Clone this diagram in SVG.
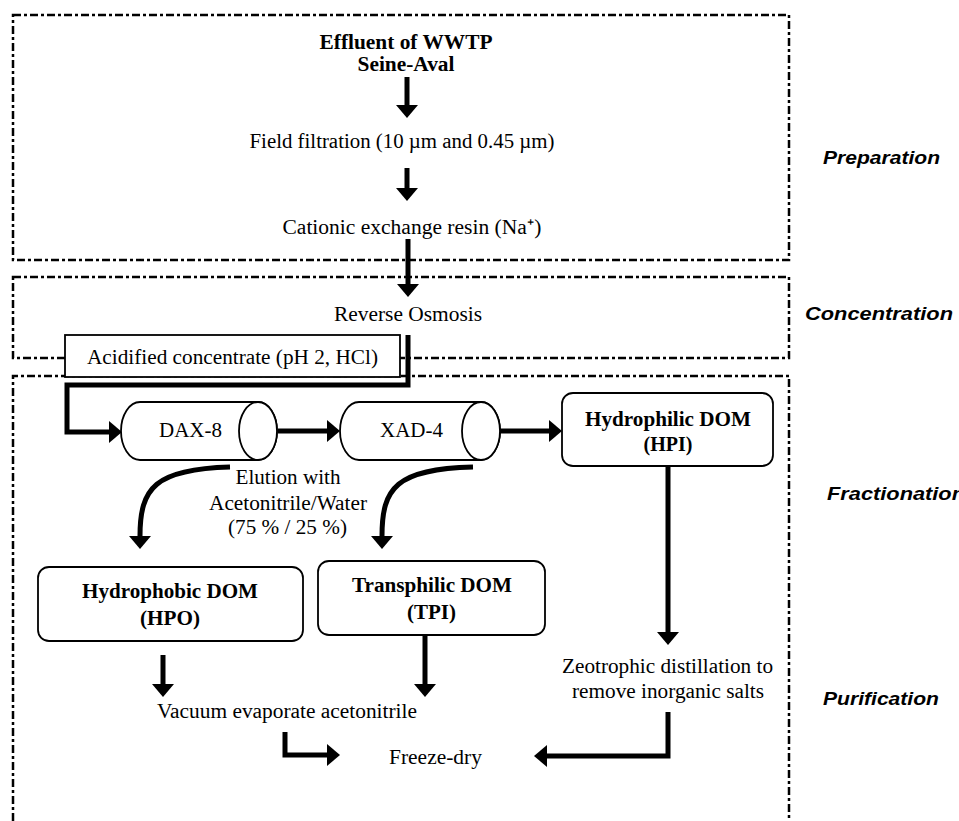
<svg xmlns="http://www.w3.org/2000/svg" width="959" height="821" viewBox="0 0 959 821">
<defs>
<marker id="ah" viewBox="0 0 13 22" refX="0" refY="11" markerWidth="13" markerHeight="22" markerUnits="userSpaceOnUse" orient="auto">
<path d="M0,0 L13,11 L0,22 Z" fill="#000"/>
</marker>
</defs>
<style>
.zone{fill:none;stroke:#000;stroke-width:2.5;stroke-dasharray:8 3 3 3}
.t{font-family:"Liberation Serif","Times New Roman",serif;font-size:20px;fill:#000;text-anchor:middle}
.b{font-weight:bold}
.lab{font-family:"Liberation Sans",Arial,sans-serif;font-size:18px;font-weight:bold;font-style:italic;fill:#000}
.box{fill:#fff;stroke:#000;stroke-width:1.8}
.cyl{fill:#fff;stroke:#000;stroke-width:1.8}
.c{fill:none;stroke:#000;stroke-width:5;marker-end:url(#ah)}
.e{fill:none;stroke:#000;stroke-width:5;stroke-linejoin:miter;marker-end:url(#ah)}
</style>
<rect width="959" height="821" fill="#fff"/>
<g id="zones">
<rect class="zone" x="13" y="15" width="776" height="245"/>
<rect class="zone" x="13" y="277" width="776" height="81"/>
<path class="zone" d="M13 821 V376 H789 V821"/>
</g>
<g id="labels">
<text class="lab" x="823" y="164" textLength="117" lengthAdjust="spacingAndGlyphs">Preparation</text>
<text class="lab" x="805" y="320" textLength="148" lengthAdjust="spacingAndGlyphs">Concentration</text>
<text class="lab" x="827" y="500" textLength="138" lengthAdjust="spacingAndGlyphs">Fractionation</text>
<text class="lab" x="823" y="705" textLength="116" lengthAdjust="spacingAndGlyphs">Purification</text>
</g>
<g id="connectors">
<path class="c" d="M407 77 V105"/>
<path class="c" d="M407 168 V188"/>
<path class="c" d="M408 239 V284"/>
<path class="e" d="M408 335 V385 H67 V432 H109"/>
<path class="c" d="M278 431 H327"/>
<path class="c" d="M500 431 H549"/>
<path class="c" d="M668 466 V632"/>
<path class="c" d="M230 467 C155 469 140 488 140 536"/>
<path class="c" d="M473 467 C396 469 382 488 382 536"/>
<path class="c" d="M163 655 V684"/>
<path class="c" d="M425 635 V684"/>
<path class="e" d="M285 732 V755 H327"/>
<path class="e" d="M668 712 V756 H547"/>
</g>
<g id="effluent">
<text class="t b" x="406" y="49" textLength="173" lengthAdjust="spacingAndGlyphs">Effluent of WWTP</text>
<text class="t b" x="406" y="71" textLength="97" lengthAdjust="spacingAndGlyphs">Seine-Aval</text>
</g>
<g id="filtration">
<text class="t" x="402" y="148" textLength="305" lengthAdjust="spacingAndGlyphs">Field filtration (10 µm and 0.45 µm)</text>
</g>
<g id="cationic">
<text class="t" x="412" y="234" textLength="259" lengthAdjust="spacingAndGlyphs">Cationic exchange resin (Na⁺)</text>
</g>
<g id="ro">
<text class="t" x="408" y="321" textLength="148" lengthAdjust="spacingAndGlyphs">Reverse Osmosis</text>
</g>
<g id="acidified">
<rect x="65" y="335" width="335" height="42" fill="#fff" stroke="#000" stroke-width="1.8"/>
<text class="t" x="232.5" y="364" textLength="291" lengthAdjust="spacingAndGlyphs">Acidified concentrate (pH 2, HCl)</text>
</g>
<g id="dax8">
<path class="cyl" d="M140 402 H258 A19 29 0 0 1 258 460 H140 A19 29 0 0 1 140 402 Z"/>
<ellipse class="cyl" cx="258" cy="431" rx="19" ry="29"/>
<text class="t" x="190.5" y="437" textLength="63" lengthAdjust="spacingAndGlyphs">DAX-8</text>
</g>
<g id="xad4">
<path class="cyl" d="M359 402 H481 A19 29 0 0 1 481 460 H359 A19 29 0 0 1 359 402 Z"/>
<ellipse class="cyl" cx="481" cy="431" rx="19" ry="29"/>
<text class="t" x="411.5" y="437" textLength="63" lengthAdjust="spacingAndGlyphs">XAD-4</text>
</g>
<g id="hpi">
<rect class="box" x="562" y="393" width="211" height="73" rx="11"/>
<text class="t b" x="668" y="426" textLength="166" lengthAdjust="spacingAndGlyphs">Hydrophilic DOM</text>
<text class="t b" x="668" y="451">(HPI)</text>
</g>
<g id="elution">
<text class="t" x="288" y="484" textLength="105" lengthAdjust="spacingAndGlyphs">Elution with</text>
<text class="t" x="288" y="510" textLength="158" lengthAdjust="spacingAndGlyphs">Acetonitrile/Water</text>
<text class="t" x="287.5" y="534" textLength="119" lengthAdjust="spacingAndGlyphs">(75 % / 25 %)</text>
</g>
<g id="hpo">
<rect class="box" x="38" y="567" width="265" height="74" rx="11"/>
<text class="t b" x="170" y="598" textLength="176" lengthAdjust="spacingAndGlyphs">Hydrophobic DOM</text>
<text class="t b" x="170" y="625" textLength="60" lengthAdjust="spacingAndGlyphs">(HPO)</text>
</g>
<g id="tpi">
<rect class="box" x="318" y="561" width="227" height="74" rx="11"/>
<text class="t b" x="432" y="592" textLength="160" lengthAdjust="spacingAndGlyphs">Transphilic DOM</text>
<text class="t b" x="431.5" y="619" textLength="49" lengthAdjust="spacingAndGlyphs">(TPI)</text>
</g>
<g id="vacuum">
<text class="t" x="287" y="718" textLength="260" lengthAdjust="spacingAndGlyphs">Vacuum evaporate acetonitrile</text>
</g>
<g id="zeotrophic">
<text class="t" x="667.5" y="673" textLength="211" lengthAdjust="spacingAndGlyphs">Zeotrophic distillation to</text>
<text class="t" x="668" y="698" textLength="192" lengthAdjust="spacingAndGlyphs">remove inorganic salts</text>
</g>
<g id="freezedry">
<text class="t" x="435.5" y="764" textLength="93" lengthAdjust="spacingAndGlyphs">Freeze-dry</text>
</g>
</svg>
